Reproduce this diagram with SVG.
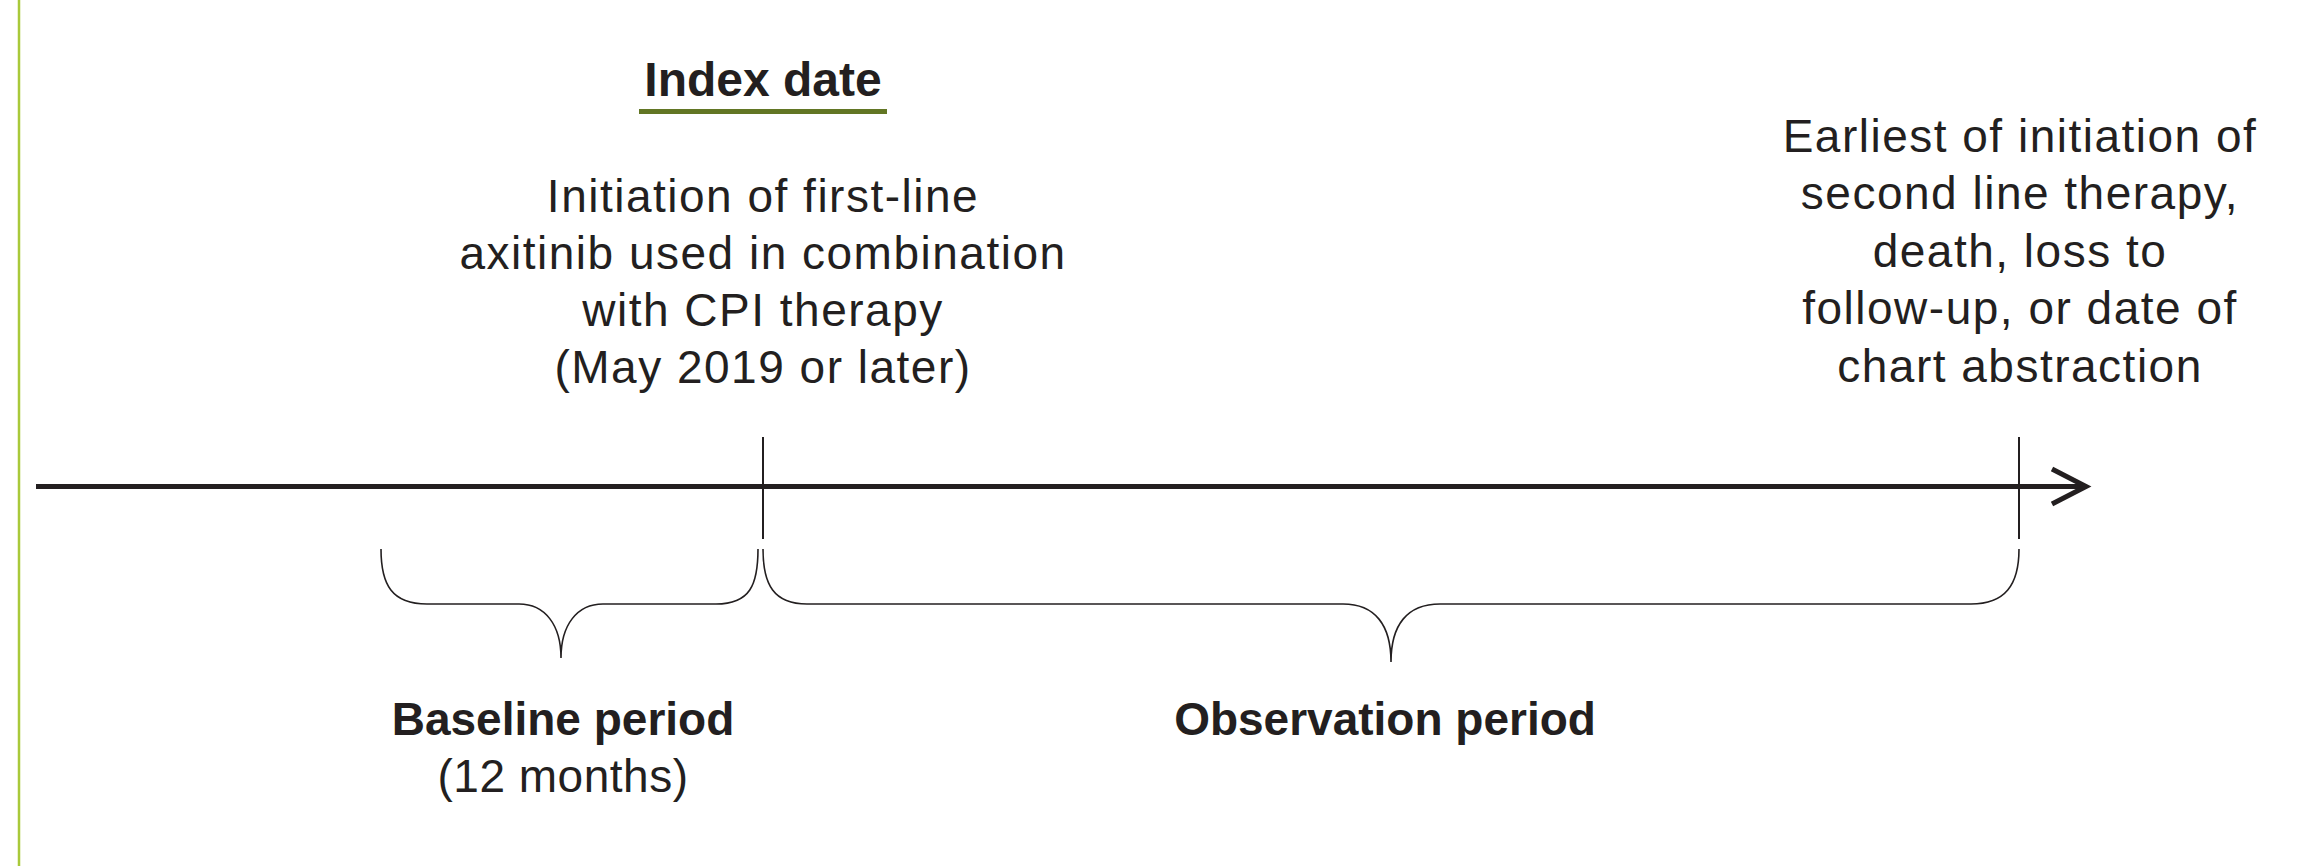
<svg xmlns="http://www.w3.org/2000/svg" width="2298" height="866" viewBox="0 0 2298 866">
<style>
.t{font-family:"Liberation Sans",Arial,sans-serif;fill:#231f20;text-anchor:middle}
.r{font-size:46px;letter-spacing:1.5px}
.b{font-weight:bold;font-size:46px}
.thin{fill:none;stroke:#231f20;stroke-width:1.6}
.thick{fill:none;stroke:#231f20;stroke-width:5}
</style>
<rect x="0" y="0" width="2298" height="866" fill="#ffffff"/>
<line x1="19" y1="0" x2="19" y2="866" stroke="#a9c93a" stroke-width="2.5"/>
<g id="index-date">
<text class="t b" x="763" y="96" style="font-size:48px">Index date</text>
<rect x="639" y="109" width="248" height="5" fill="#627624"/>
<text class="t r" x="763" y="212">Initiation of first-line</text>
<text class="t r" x="763" y="269">axitinib used in combination</text>
<text class="t r" x="763" y="326">with CPI therapy</text>
<text class="t r" x="763" y="383">(May 2019 or later)</text>
</g>
<g id="end-event">
<text class="t r" x="2020" y="152">Earliest of initiation of</text>
<text class="t r" x="2020" y="209">second line therapy,</text>
<text class="t r" x="2020" y="267">death, loss to</text>
<text class="t r" x="2020" y="324">follow-up, or date of</text>
<text class="t r" x="2020" y="382">chart abstraction</text>
</g>
<g id="baseline-period">
<text class="t b" x="563" y="735">Baseline period</text>
<text class="t r" x="563" y="792" style="letter-spacing:0.5px">(12 months)</text>
</g>
<g id="observation-period">
<text class="t b" x="1385" y="735">Observation period</text>
</g>
<g id="connectors">
<line class="thick" x1="36" y1="486.5" x2="2084" y2="486.5"/>
<polyline class="thick" points="2052,469 2086,486.5 2052,504"/>
<line class="thin" x1="763" y1="437" x2="763" y2="539" style="stroke-width:2"/>
<line class="thin" x1="2019" y1="437" x2="2019" y2="539" style="stroke-width:2"/>
<path class="thin" d="M381,549 C381,585 392,604 427,604 H519 C545,604 561,625 561,658 C561,625 577,604 603,604 H716 C750,604 758,585 758,549"/>
<path class="thin" d="M763,549 C763,585 774,604 807,604 H1343 C1375,604 1391,625 1391,662 C1391,625 1407,604 1440,604 H1971 C2005,604 2019,585 2019,549"/>
</g>
</svg>
